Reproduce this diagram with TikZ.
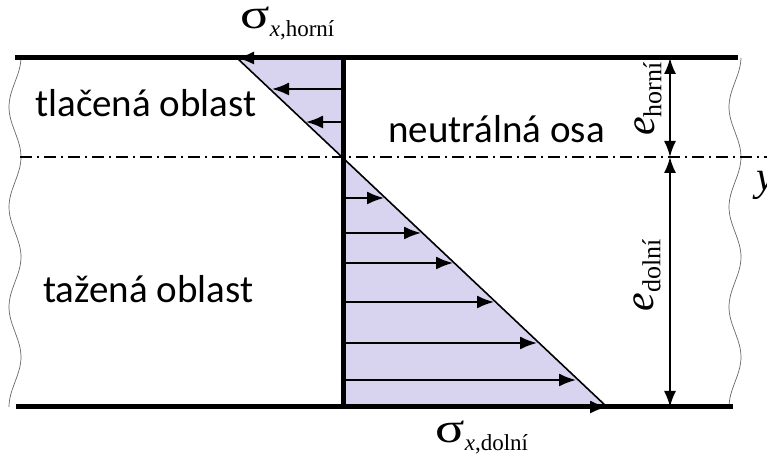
\documentclass[tikz,border=0pt]{standalone}
\usepackage{fontspec}
\setmainfont{Carlito}
\newfontfamily\serifg{Liberation Serif}
\usetikzlibrary{arrows.meta}
\definecolor{lav}{RGB}{216,212,240}
\newcommand{\siglabel}[1]{\scalebox{1.3}[1]{\serifg\fontsize{21}{21}\selectfont σ}\raisebox{-0.4em}{\serifg\fontsize{11.5}{11.5}\selectfont\textit{x},#1}}
\newcommand{\elabel}[1]{{\serifg\itshape\fontsize{21}{21}\selectfont e}\raisebox{-0.35em}{\serifg\fontsize{13}{13}\selectfont #1}}
\begin{document}
\begin{tikzpicture}[x=0.5pt,y=-0.5pt,
  beamline/.style={line width=2.5pt},
  stressarrow/.style={line width=0.9pt,-{Latex[length=8.5pt,width=6.5pt]}},
  dimarrow/.style={line width=0.9pt,{Latex[length=8pt,width=6pt]}-{Latex[length=8pt,width=6pt]}},
  axisline/.style={line width=0.7pt,dash pattern=on 6pt off 2.5pt on 1pt off 2.5pt},
  wave/.style={line width=0.35pt,black!60},
  lbl/.style={font=\fontsize{19.5}{22}\selectfont,anchor=base west,inner sep=0pt},
  sym/.style={inner sep=0pt}]
\useasboundingbox (0,0) rectangle (767,454);
% key points
\coordinate (TL) at (15,58);
\coordinate (TR) at (738,58);
\coordinate (BL) at (16,407);
\coordinate (BR) at (733,407);
\coordinate (A) at (343,58);
\coordinate (N) at (343,157);
\coordinate (B) at (343,407);
\coordinate (P) at (237,58);
\coordinate (Q) at (607,407);
\coordinate (AxL) at (20,157);
\coordinate (AxR) at (767,157);
\coordinate (D1) at (670,58);
\coordinate (D2) at (670,157);
\coordinate (D3) at (670,407);
% stress areas
\fill[lav] (P) -- (A) -- (N) -- cycle;
\fill[lav] (N) -- (B) -- (Q) -- cycle;
% wavy cut edges
\draw[wave] plot[domain=58:407,samples=90,smooth] ({15+6*cos(3.6*(\x-157))},\x);
\draw[wave] plot[domain=58:407,samples=90,smooth] ({735+6*cos(3.6*(\x-157))},\x);
% neutral axis
\draw[axisline] (AxL) -- (AxR);
% beam edges
\draw[beamline] (TL) -- (TR);
\draw[beamline] (BL) -- (BR);
% stress arrows
\foreach \yy/\xx in {89/272,122/306}
  \draw[stressarrow] (343,\yy) -- (\xx,\yy);
\foreach \yy/\xx in {198/384,233/421,263/453,302/494,343/537,380/576}
  \draw[stressarrow] (343,\yy) -- (\xx,\yy);
\draw[stressarrow] (A) -- (P);
\draw[stressarrow] (B) -- (Q);
% stress line
\draw[line width=0.8pt] (P) -- (Q);
% section line
\draw[beamline] (A) -- (B);
% dimensions
\draw[dimarrow] (D1) -- (D2);
\draw[dimarrow] (D2) -- (D3);
% labels
\node[lbl] (tl) at (35,117) {tlačená oblast};
\node[lbl] (no) at (388,143) {neutrálná osa};
\node[lbl] (ta) at (43,303) {tažená oblast};
\node[sym,anchor=base west] (sh) at (240,29) {\siglabel{horní}};
\node[sym,anchor=base west] (sd) at (435,443) {\siglabel{dolní}};
\node[sym,rotate=90] (eh) at (648,99) {\elabel{horní}};
\node[sym,rotate=90] (ed) at (647,275) {\elabel{dolní}};
\node[anchor=base west,inner sep=0pt,font=\serifg\itshape\fontsize{21}{21}\selectfont] (yl) at (756,191) {y};
\end{tikzpicture}
\end{document}
